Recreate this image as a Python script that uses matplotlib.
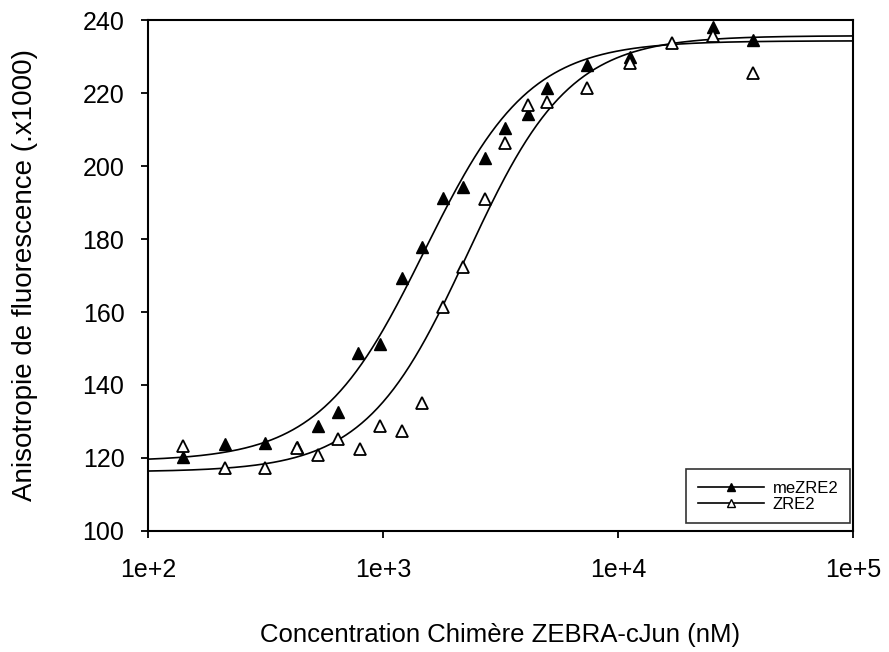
import numpy as np
import matplotlib
matplotlib.use("Agg")
import matplotlib.pyplot as plt

plt.rcParams['font.family'] = ['Liberation Sans', 'DejaVu Sans']

# Concentration (nM) and anisotropy (x1000) for the two probes
conc_me = [141, 213, 315, 431, 529, 644, 783, 970, 1205, 1465, 1800, 2188,
           2716, 3304, 4140, 4990, 7380, 11250, 25350, 37500]
aniso_me = [120.3, 123.8, 124.1, 123.0, 128.8, 132.6, 148.8, 151.2, 169.3, 177.8,
            191.2, 194.2, 202.2, 210.4, 214.2, 221.4, 227.7, 229.9, 238.1, 234.5]

conc_zre = [141, 213, 315, 431, 529, 644, 797, 970, 1205, 1465, 1800, 2188,
            2716, 3304, 4140, 4990, 7380, 11250, 16980, 25350, 37500]
aniso_zre = [123.3, 117.3, 117.3, 122.7, 120.8, 125.2, 122.5, 128.8, 127.4, 135.1,
             161.4, 172.3, 191.0, 206.3, 216.7, 217.5, 221.4, 228.2, 233.7, 235.6, 225.5]

# Sigmoidal (Hill) binding curves: bottom, top, EC50 (nM), Hill slope
fit_me = [119.1, 234.3, 1500.0, 1.95]
fit_zre = [116.2, 235.7, 2290.0, 2.0]

y_ticks = [100, 120, 140, 160, 180, 200, 220, 240]
x_ticks = [1e2, 1e3, 1e4, 1e5]
x_tick_labels = ["1e+2", "1e+3", "1e+4", "1e+5"]


def hill(x, bottom, top, ec50, n):
    return bottom + (top - bottom) / (1.0 + (ec50 / x) ** n)


fig = plt.figure(figsize=(8.89, 6.52), dpi=100)
ax = fig.add_axes([0.1665, 0.1856, 0.7930, 0.7837])

xs = np.logspace(2, 5, 400)
ax.plot(xs, hill(xs, *fit_me), color="black", lw=1.2)
ax.plot(xs, hill(xs, *fit_zre), color="black", lw=1.2)
ax.plot(conc_me, aniso_me, linestyle="none", marker="^", ms=9,
        mfc="black", mec="black", mew=1.0)
ax.plot(conc_zre, aniso_zre, linestyle="none", marker="^", ms=9,
        mfc="white", mec="black", mew=1.3)

# legend handles: line with marker
h1, = ax.plot([], [], color="black", lw=1.2, marker="^", ms=6, mfc="black", mec="black")
h2, = ax.plot([], [], color="black", lw=1.2, marker="^", ms=6, mfc="white", mec="black")
leg = ax.legend([h1, h2], ["meZRE2", "ZRE2"], loc="lower right",
                bbox_to_anchor=(0.996, 0.015), fontsize=12, frameon=True,
                fancybox=False, edgecolor="black", handlelength=4.0,
                handletextpad=0.5, labelspacing=0.05, borderpad=0.7,
                borderaxespad=0.0)
leg.get_frame().set_linewidth(1.2)

ax.set_xscale("log")
ax.set_xlim(1e2, 1e5)
ax.set_ylim(100, 240)
ax.set_xticks(x_ticks)
ax.set_xticklabels(x_tick_labels)
ax.xaxis.set_minor_locator(matplotlib.ticker.NullLocator())
ax.set_yticks(y_ticks)

for s in ax.spines.values():
    s.set_linewidth(1.5)
    s.set_color("black")
ax.tick_params(axis="both", direction="out", length=5, width=1.3,
               labelsize=18, colors="black")
ax.tick_params(axis="x", pad=14.5)
ax.tick_params(axis="y", pad=12)

ax.set_xlabel("Concentration Chimère ZEBRA-cJun (nM)", fontsize=18.5)
ax.set_ylabel("Anisotropie de fluorescence (.x1000)", fontsize=20)
ax.xaxis.label.set_va("center")
ax.yaxis.label.set_va("center")
ax.xaxis.set_label_coords(0.499, -0.2035)
ax.yaxis.set_label_coords(-0.1745, 0.501)

fig.savefig("out.png", dpi=100, facecolor="white")
